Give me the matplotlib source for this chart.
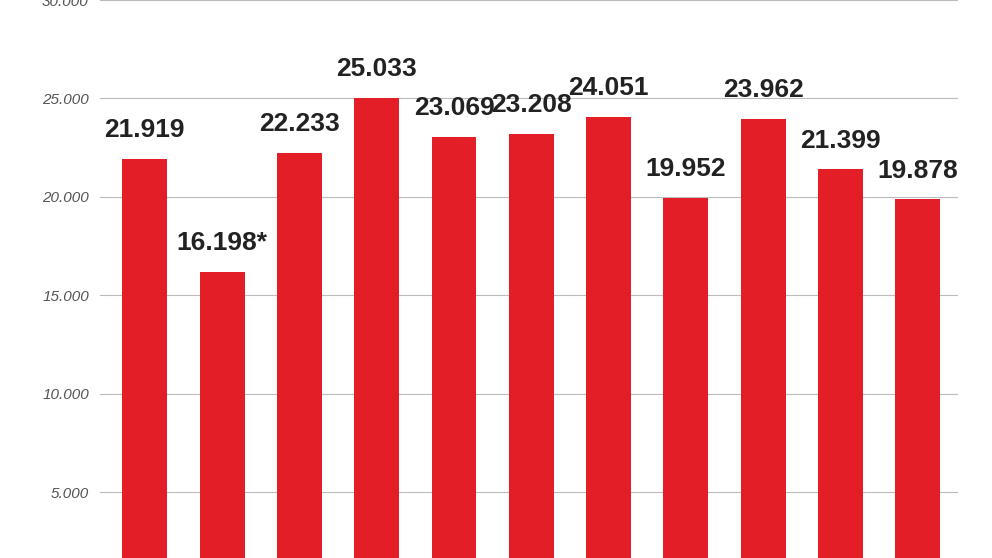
import matplotlib
matplotlib.use("Agg")
import matplotlib.pyplot as plt

values = [21919, 16198, 22233, 25033, 23069, 23208, 24051, 19952, 23962, 21399, 19878]
labels = ["21.919", "16.198*", "22.233", "25.033", "23.069", "23.208", "24.051", "19.952", "23.962", "21.399", "19.878"]
yticks = [5000, 10000, 15000, 20000, 25000, 30000]
ytick_labels = ["5.000", "10.000", "15.000", "20.000", "25.000", "30.000"]

fig = plt.figure(figsize=(9.92, 5.58), dpi=100)
ax = fig.add_axes([100/992, 0, 858/992, 1])
x = list(range(len(values)))
ax.bar(x, values, width=0.58, color="#e41e26", zorder=3)
ax.set_xlim(-0.58, 10.52)
ax.set_ylim(1667, 29747)
ax.set_yticks(yticks)
ax.set_yticklabels(ytick_labels, fontstyle="italic", color="#555555", fontsize=11,
                   family="Liberation Sans")
ax.tick_params(axis="y", length=0, pad=8)
ax.set_xticks([])
ax.grid(axis="y", color="#bbbbbb", linewidth=0.8, zorder=0)
for s in ax.spines.values():
    s.set_visible(False)
for xi, v, l in zip(x, values, labels):
    ax.annotate(l, (xi, v), xytext=(0, 12), textcoords="offset points",
                ha="center", va="bottom", fontsize=19, fontweight="bold",
                color="#222222", family="Liberation Sans")
fig.savefig("out.png", dpi=100)
